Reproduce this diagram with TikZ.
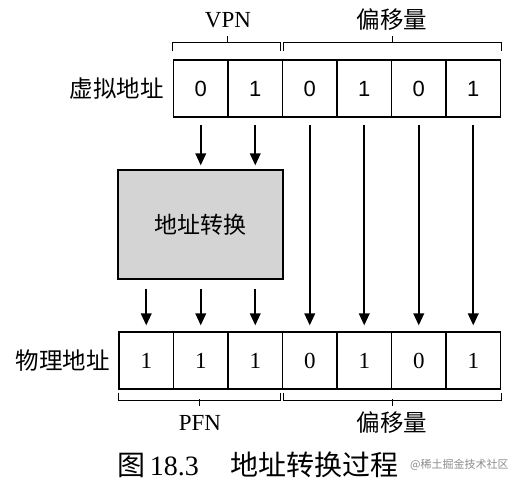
\documentclass[tikz,border=0pt]{standalone}
\usepackage{fontspec}
\setmainfont{Liberation Serif}
\newfontfamily\cjk{Noto Sans CJK SC}
\newfontfamily\sansdig{Liberation Sans}
\usetikzlibrary{arrows.meta}
\tikzset{
  cell/.style={draw, line width=1.2pt, minimum width=54.5pt, minimum height=57pt, inner sep=0pt},
  topdig/.style={font=\sansdig\fontsize{22}{24}\selectfont},
  botdig/.style={font=\fontsize{23}{25}\selectfont},
  arr/.style={line width=2pt, -{Triangle[length=12pt,width=10.5pt]}},
  brace/.style={line width=1pt},
  cjklabel/.style={font=\cjk\fontsize{23.5}{25}\selectfont, inner sep=0pt},
  latlabel/.style={font=\fontsize{23}{25}\selectfont, inner sep=0pt},
  transbox/.style={draw, line width=1.2pt, fill=black!17, minimum width=165pt, minimum height=109pt, inner sep=0pt, font=\cjk\fontsize{23}{25}\selectfont},
}
\begin{document}
\begin{tikzpicture}[x=1pt,y=-1pt]
\useasboundingbox[fill=white] (0,0) rectangle (522,487);
% virtual address row
\foreach \d [count=\i] in {0,1,0,1,0,1}
  \node[cell, topdig] (v\i) at ({173.5+54.5*(\i-0.5)},88.5) {\d};
% physical address row
\foreach \d [count=\i] in {1,1,1,0,1,0,1}
  \node[cell, botdig] (p\i) at ({119+54.5*(\i-0.5)},360.5) {\d};
% row labels
\node[cjklabel, anchor=east] (vlab) at (164,89) {虚拟地址};
\node[cjklabel, anchor=east] (plab) at (110,361) {物理地址};
% translation box
\node[transbox] (trans) at (200.5,224.5) {地址转换};
% arrows into translation box
\foreach \i in {1,2}
  \draw[arr] ([yshift=-7pt]v\i.south) -- ([yshift=4pt]v\i.south |- trans.north);
% arrows out of translation box
\foreach \i in {1,2,3}
  \draw[arr] ([yshift=-9pt]trans.south -| p\i.north) -- ([yshift=6pt]p\i.north);
% offset arrows
\foreach \i [evaluate=\i as \j using int(\i+1)] in {3,4,5,6}
  \draw[arr] ([yshift=-7pt]v\i.south) -- ([yshift=6pt]p\j.north);
% top braces
\draw[brace] ([yshift=8pt]v1.north west) -- ++(0,-9) -| ([xshift=-3pt,yshift=8pt]v2.north east);
\draw[brace] (227,43) -- (227,36);
\draw[brace] ([xshift=2pt,yshift=8pt]v3.north west) -- ++(0,-9) -| ([yshift=8pt]v6.north east);
\draw[brace] (392,43) -- (392,36);
\node[latlabel] (vpn) at (228,20) {VPN};
\node[cjklabel] (off1) at (392,20) {偏移量};
% bottom braces
\draw[brace] ([yshift=-3pt]p1.south west) -- ++(0,8) -| ([xshift=-3pt,yshift=-3pt]p3.south east);
\draw[brace] (199,399) -- (199,406);
\draw[brace] ([xshift=2pt,yshift=-3pt]p4.south west) -- ++(0,8) -| ([yshift=-3pt]p7.south east);
\draw[brace] (392,399) -- (392,406);
\node[latlabel] (pfn) at (200,423) {PFN};
\node[cjklabel] (off2) at (392,423) {偏移量};
% caption
\node[anchor=west, inner sep=0pt, font=\fontsize{28}{30}\selectfont] (cap1) at (117,465) {{\cjk 图}\,18.3};
\node[anchor=west, inner sep=0pt, font=\cjk\fontsize{28}{30}\selectfont] (cap2) at (230,465) {地址转换过程};
\node[anchor=west, inner sep=0pt, text=black!45, font=\cjk\fontsize{11}{13}\selectfont] (wm) at (410,465) {@稀土掘金技术社区};
\end{tikzpicture}
\end{document}
